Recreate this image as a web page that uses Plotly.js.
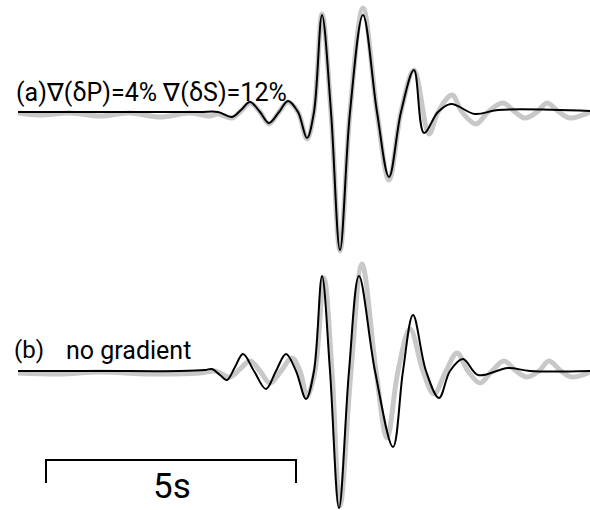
<!DOCTYPE html>
<html>
<head>
<meta charset="utf-8">
<script src="https://cdn.plot.ly/plotly-3.0.1.min.js"></script>
<style>html,body{margin:0;padding:0;background:#fff;}#chart{width:590px;height:510px;}</style>
</head>
<body>
<div id="chart"></div>
<script>
// Time in seconds (from start of trace), amplitude in arbitrary units (up positive)
// Trace (a): gradient model — black = synthetic, gray = reference
const tA_black = [0,0.84,1.64,2.64,3.64,4.0,4.28,4.46,4.64,4.84,5.02,5.22,5.4,5.6,5.78,5.92,6.08,6.26,6.44,6.64,6.9,7.18,7.42,7.66,7.92,8.12,8.4,8.66,9.14,9.6,11.44];
const ampA_black = [0,0,0,0,0,0,-5,2,10,0,-11,0,11,0,-26,0,97,0,-138,0,97,0,-65,0,42,-21,0,8,-2,2,1];

const tA_gray = [0,0.44,1.04,1.64,2.24,2.84,3.44,3.84,4.0,4.28,4.46,4.64,4.84,5.02,5.22,5.4,5.6,5.78,5.92,6.08,6.26,6.44,6.64,6.9,7.18,7.42,7.66,7.92,8.22,8.4,8.68,8.88,9.16,9.4,9.7,9.94,10.14,10.38,10.58,10.82,11.04,11.44];
const ampA_gray = [-1,-3,-1,-4,-1,-5,-1,-4,-2,-6,1,9,0,-12,0,10,0,-27,0,98,0,-139,0,104,0,-68,0,42,-22,0,17,0,-12,0,9,0,-6,0,9,0,-6,0];

// Trace (b): no gradient — black = synthetic, gray = reference
const tB_black = [0,1.64,3.24,3.74,3.88,4.04,4.18,4.34,4.5,4.72,4.96,5.16,5.36,5.56,5.76,5.92,6.08,6.24,6.42,6.62,6.82,7.14,7.5,7.7,7.9,8.16,8.42,8.64,8.9,9.2,9.8,10.24,11.44];
const ampB_black = [0,0,0,1,2,-4,-9,4,17,0,-18,0,17,0,-28,0,95,0,-137,0,95,0,-76,0,56,0,-27,0,12,-4,3,0,0];

const tB_gray = [0,0.84,1.64,2.64,3.64,3.94,4.24,4.44,4.64,4.84,5.04,5.26,5.48,5.64,5.78,5.94,6.12,6.28,6.44,6.66,6.88,7.16,7.38,7.6,7.84,8.1,8.32,8.56,8.78,9.0,9.24,9.48,9.72,9.96,10.18,10.42,10.62,10.86,11.08,11.44];
const ampB_gray = [-2,-3,-1,-3,-2,0,-6,2,10,0,-12,0,13,0,-25,0,93,0,-135,0,107,0,-67,0,42,0,-23,0,18,0,-12,0,10,0,-6,0,10,0,-6,-1];

// Scale bar length (seconds) and its label
const scaleBarSeconds = 5;
const scaleBarLabel = "5s";
const labelA = "(a)\u2207(\u03b4P)=4% \u2207(\u03b4S)=12%";
const labelB1 = "(b)";
const labelB2 = "no gradient";

// offsets for stacking the traces (layout)
const offA = -112, offB = -371;
const shift = (arr, o) => arr.map(v => v + o);

const grayLine = {color: '#c8c8c8', width: 5, shape: 'spline', smoothing: 1};
const blackLine = {color: '#000000', width: 2, shape: 'spline', smoothing: 1};

const data = [
  {x: tA_gray, y: shift(ampA_gray, offA), mode: 'lines', line: grayLine, hoverinfo: 'skip'},
  {x: tA_black, y: shift(ampA_black, offA), mode: 'lines', line: blackLine, hoverinfo: 'skip'},
  {x: tB_gray, y: shift(ampB_gray, offB), mode: 'lines', line: grayLine, hoverinfo: 'skip'},
  {x: tB_black, y: shift(ampB_black, offB), mode: 'lines', line: blackLine, hoverinfo: 'skip'}
];

const sbStart = 0.56, sbY = -460, sbTick = 23;
const font = 'Roboto, "Open Sans", sans-serif';

const layout = {
  width: 590, height: 510,
  margin: {l: 0, r: 0, t: 0, b: 0},
  paper_bgcolor: '#fff', plot_bgcolor: '#fff',
  showlegend: false,
  xaxis: {range: [-0.36, 11.44], visible: false, fixedrange: true},
  yaxis: {range: [-510, 0], visible: false, fixedrange: true},
  shapes: [{
    type: 'path', xref: 'x', yref: 'y',
    path: `M ${sbStart},${sbY - sbTick} L ${sbStart},${sbY} L ${sbStart + scaleBarSeconds},${sbY} L ${sbStart + scaleBarSeconds},${sbY - sbTick}`,
    line: {color: '#000', width: 2}
  }],
  annotations: [
    {text: labelA, xref: 'paper', yref: 'paper', x: 14/590, y: 1 - 92/510, xanchor: 'left', yanchor: 'middle', showarrow: false, font: {family: font, size: 25, color: '#000'}},
    {text: labelB1, xref: 'paper', yref: 'paper', x: 12/590, y: 1 - 350/510, xanchor: 'left', yanchor: 'middle', showarrow: false, font: {family: font, size: 24, color: '#000'}},
    {text: labelB2, xref: 'paper', yref: 'paper', x: 64/590, y: 1 - 350/510, xanchor: 'left', yanchor: 'middle', showarrow: false, font: {family: font, size: 25, color: '#000'}},
    {text: scaleBarLabel, xref: 'paper', yref: 'paper', x: 172/590, y: 1 - 486/510, xanchor: 'center', yanchor: 'middle', showarrow: false, font: {family: font, size: 35, color: '#000'}}
  ]
};

Plotly.newPlot('chart', data, layout, {displayModeBar: false, staticPlot: true});
</script>
</body>
</html>
